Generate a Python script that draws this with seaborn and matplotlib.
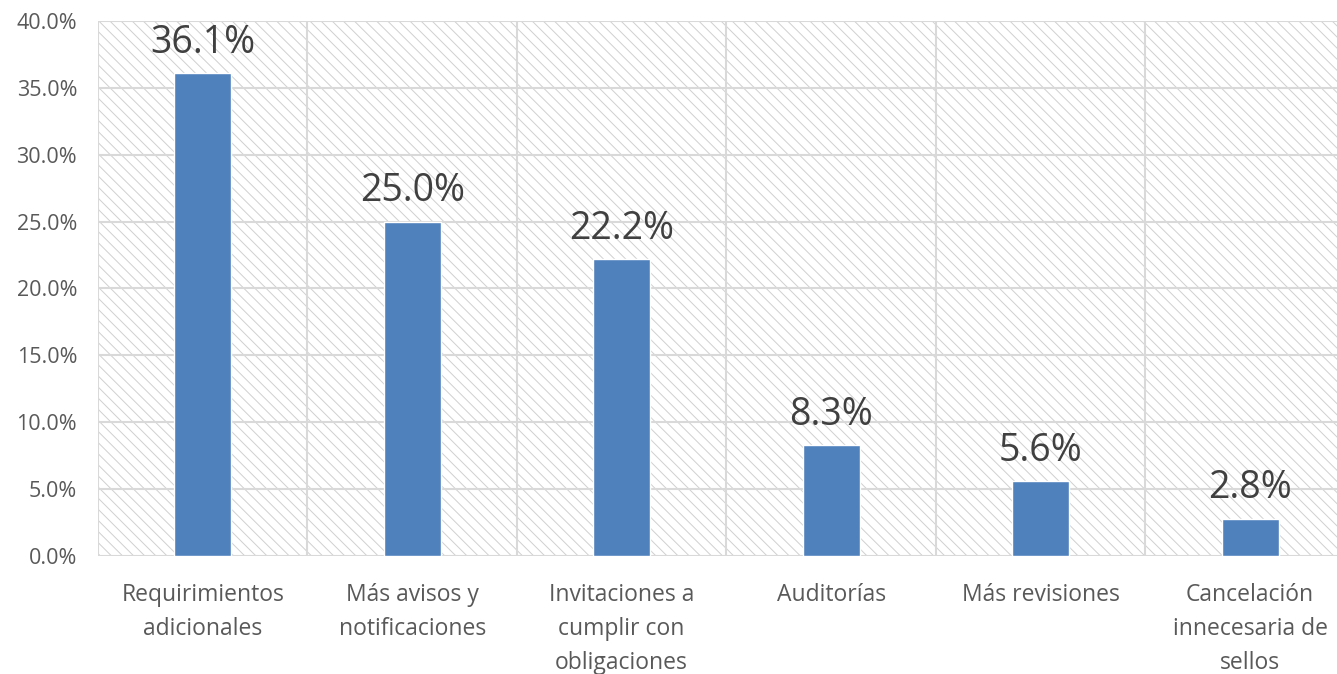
import matplotlib
matplotlib.use("Agg")
import matplotlib.pyplot as plt
import seaborn as sns
import pandas as pd
from matplotlib.patches import Rectangle

categories = ["Requirimientos\nadicionales", "Más avisos y\nnotificaciones",
              "Invitaciones a\ncumplir con\nobligaciones", "Auditorías",
              "Más revisiones", "Cancelación\ninnecesaria de\nsellos"]
values = [36.1, 25.0, 22.2, 8.3, 5.6, 2.8]
yticks = [0, 5, 10, 15, 20, 25, 30, 35, 40]

sns.set_theme(style="white")
plt.rcParams['font.family'] = ['Open Sans', 'DejaVu Sans']
plt.rcParams['hatch.linewidth'] = 0.7
plt.rcParams['hatch.color'] = '#d0d0d0'

df = pd.DataFrame({"cat": categories, "val": values})

fig = plt.figure(figsize=(13.37, 6.74), dpi=100)
ax = fig.add_axes([0.0733, 0.175, 0.940, 0.794])

bg = Rectangle((0, 0), 1, 1, transform=ax.transAxes, facecolor='white',
               edgecolor='#d0d0d0', hatch='\\\\\\', linewidth=0, zorder=0)
ax.add_patch(bg)

sns.barplot(data=df, x="cat", y="val", color="#4F81BD", width=0.272,
            saturation=1, ax=ax, zorder=3)

ax.set_ylim(0, 40)
ax.set_xlim(-0.5, 5.5)
ax.set_yticks(yticks)
ax.set_yticklabels([f"{t:.1f}%" for t in yticks], fontsize=15.5, color='#595959')
ax.tick_params(axis='x', labelsize=16.5, colors='#595959', length=0, pad=19.5)
ax.tick_params(axis='y', length=0, pad=15)
for lab in ax.get_xticklabels():
    lab.set_linespacing(1.56)
ax.set_xlabel("")
ax.set_ylabel("")

for y in yticks:
    ax.axhline(y, color='#d9d9d9', linewidth=1.5, zorder=1)
for x in [-0.5, 0.5, 1.5, 2.5, 3.5, 4.5, 5.5]:
    ax.axvline(x, color='#d9d9d9', linewidth=1.5, zorder=1)

for i, v in enumerate(values):
    ax.annotate(f"{v:.1f}%", (i, v), xytext=(0, 8), textcoords='offset points',
                ha='center', va='bottom', fontsize=27, color='#404040', zorder=4)

for s in ax.spines.values():
    s.set_visible(False)

fig.savefig("out.png", dpi=100)
